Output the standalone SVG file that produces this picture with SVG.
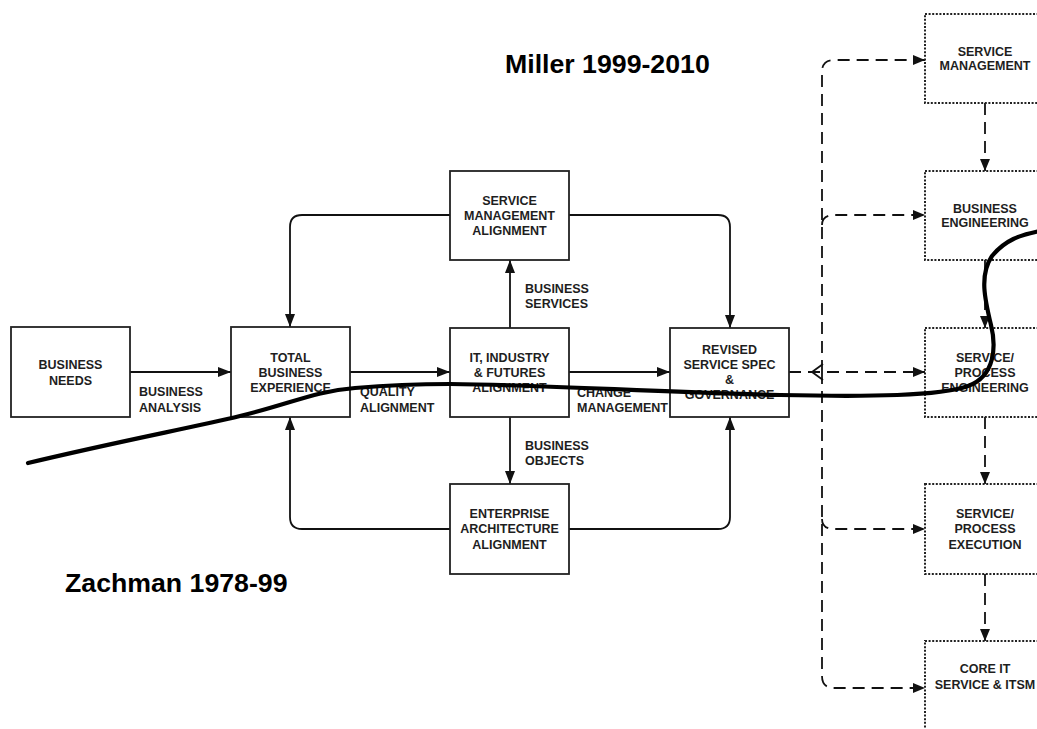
<svg xmlns="http://www.w3.org/2000/svg" width="1037" height="729" viewBox="0 0 1037 729">
<style>
text{font-family:"Liberation Sans",Arial,sans-serif;font-weight:bold;fill:#1e1e1e}
.t{font-size:12.5px;text-anchor:middle}
.l{font-size:12.5px;text-anchor:start}
.title{font-size:26.7px;fill:#000}
.box{fill:#fff;stroke:#222;stroke-width:1.8}
.dbox{fill:#fff;stroke:#222;stroke-width:2;stroke-dasharray:2 1.6}
.c{fill:none;stroke:#111;stroke-width:1.8}
.d{fill:none;stroke:#111;stroke-width:1.8;stroke-dasharray:12 7}
</style>
<defs>
<marker id="a" markerUnits="userSpaceOnUse" markerWidth="14" markerHeight="12" refX="13" refY="5" orient="auto"><path d="M0,0 L13,5 L0,10 z" fill="#111"/></marker>
<marker id="ad" markerUnits="userSpaceOnUse" markerWidth="14" markerHeight="12" refX="12" refY="5" orient="auto"><path d="M0,0 L12,5 L0,10 z" fill="#111"/></marker>
</defs>
<rect width="1037" height="729" fill="#fff"/>

<g id="connectors">
<path class="c" d="M130,372 L231,372" marker-end="url(#a)"/>
<path class="c" d="M350,372 L450,372" marker-end="url(#a)"/>
<path class="c" d="M569,372 L670,372" marker-end="url(#a)"/>
<path class="c" d="M510,328 L510,260" marker-end="url(#a)"/>
<path class="c" d="M510,417 L510,484" marker-end="url(#a)"/>
<path class="c" d="M450,215 L302,215 Q290,215 290,227 L290,327" marker-end="url(#a)"/>
<path class="c" d="M569,215 L718,215 Q730,215 730,227 L730,328" marker-end="url(#a)"/>
<path class="c" d="M450,529 L302,529 Q290,529 290,517 L290,417" marker-end="url(#a)"/>
<path class="c" d="M569,529 L718,529 Q730,529 730,517 L730,417" marker-end="url(#a)"/>
<path class="d" d="M985,103 L985,171" marker-end="url(#ad)"/>
<path class="d" d="M985,260 L985,328" marker-end="url(#ad)"/>
<path class="d" d="M985,417 L985,484" marker-end="url(#ad)"/>
<path class="d" d="M985,574 L985,641" marker-end="url(#ad)"/>
<path class="d" d="M822,372 L822,72 Q822,60 834,60 L925,60" marker-end="url(#ad)"/>
<path class="d" d="M822,372 L822,676 Q822,688 834,688 L925,688" marker-end="url(#ad)"/>
<path class="d" d="M822,225 Q822,215 834,215 L925,215" marker-end="url(#ad)"/>
<path class="d" d="M822,519 Q822,529 834,529 L925,529" marker-end="url(#ad)"/>
<path class="d" d="M789,372 L925,372" marker-end="url(#ad)"/>
<path d="M823,364 L812,372 L823,380" fill="none" stroke="#111" stroke-width="1.8"/>
</g>

<g id="business-needs"><rect class="box" x="11" y="327" width="119" height="90"/><text class="t" x="70.5" y="368.5">BUSINESS</text><text class="t" x="70.5" y="384.5">NEEDS</text></g>
<g id="total-business-experience"><rect class="box" x="231" y="327" width="119" height="90"/><text class="t" x="290.5" y="361.5">TOTAL</text><text class="t" x="290.5" y="376.5">BUSINESS</text><text class="t" x="290.5" y="391.5">EXPERIENCE</text></g>
<g id="it-industry"><rect class="box" x="450" y="328" width="119" height="89"/><text class="t" x="509.5" y="361.5">IT, INDUSTRY</text><text class="t" x="509.5" y="376.5">&amp; FUTURES</text><text class="t" x="509.5" y="391.5">ALIGNMENT</text></g>
<g id="service-management-alignment"><rect class="box" x="450" y="171" width="119" height="89"/><text class="t" x="509.5" y="204.5">SERVICE</text><text class="t" x="509.5" y="219.5">MANAGEMENT</text><text class="t" x="509.5" y="234.5">ALIGNMENT</text></g>
<g id="revised-service-spec"><rect class="box" x="670" y="328" width="119" height="89"/><text class="t" x="729.5" y="353.5">REVISED</text><text class="t" x="729.5" y="368.5">SERVICE SPEC</text><text class="t" x="729.5" y="384">&amp;</text><text class="t" x="729.5" y="399">GOVERNANCE</text></g>
<g id="enterprise-architecture"><rect class="box" x="450" y="484" width="119" height="90"/><text class="t" x="509.5" y="517.5">ENTERPRISE</text><text class="t" x="509.5" y="533">ARCHITECTURE</text><text class="t" x="509.5" y="548.5">ALIGNMENT</text></g>

<g id="service-management"><rect class="dbox" x="925" y="14" width="125" height="89"/><text class="t" x="985" y="55.5">SERVICE</text><text class="t" x="985" y="70">MANAGEMENT</text></g>
<g id="business-engineering"><rect class="dbox" x="925" y="171" width="125" height="89"/><text class="t" x="985" y="212.5">BUSINESS</text><text class="t" x="985" y="226.5">ENGINEERING</text></g>
<g id="service-process-engineering"><rect class="dbox" x="925" y="328" width="125" height="89"/><text class="t" x="985" y="361.5">SERVICE/</text><text class="t" x="985" y="376.5">PROCESS</text><text class="t" x="985" y="391.5">ENGINEERING</text></g>
<g id="service-process-execution"><rect class="dbox" x="925" y="484" width="125" height="90"/><text class="t" x="985" y="517.5">SERVICE/</text><text class="t" x="985" y="533">PROCESS</text><text class="t" x="985" y="548.5">EXECUTION</text></g>
<g id="core-it-service"><rect class="dbox" x="925" y="641" width="125" height="100"/><text class="t" x="985" y="672.5">CORE IT</text><text class="t" x="985" y="688.5">SERVICE &amp; ITSM</text></g>

<g id="labels">
<text class="l" x="139" y="396">BUSINESS</text><text class="l" x="139" y="411.5">ANALYSIS</text>
<text class="l" x="360" y="396">QUALITY</text><text class="l" x="360" y="411.5">ALIGNMENT</text>
<text class="l" x="525" y="292.5">BUSINESS</text><text class="l" x="525" y="307.5">SERVICES</text>
<text class="l" x="577" y="396.5">CHANGE</text><text class="l" x="577" y="411.5">MANAGEMENT</text>
<text class="l" x="525" y="449.5">BUSINESS</text><text class="l" x="525" y="464.5">OBJECTS</text>
<text class="title" x="505" y="73">Miller 1999-2010</text>
<text class="title" x="65" y="592">Zachman 1978-99</text>
</g>

<g id="boundary-line">
<path d="M28,463 C120,441 190,428 240,416 C290,404 315,391 355,388 C390,385 420,384 450,384 C550,385 650,392 780,395 C870,397 940,396 968,386 C996,376 996,345 991,325 C985,300 979,275 992,256 C1005,240 1020,235 1040,231" fill="none" stroke="#000" stroke-width="4.2" stroke-linecap="round"/>
</g>
</svg>
